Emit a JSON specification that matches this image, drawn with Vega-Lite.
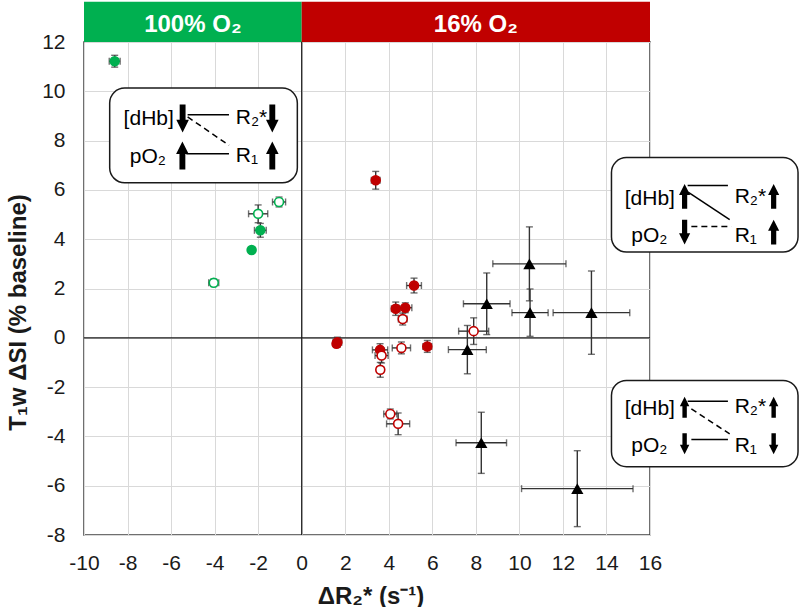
{
  "$schema": "https://vega.github.io/schema/vega-lite/v6.json",
  "width": 566,
  "height": 493,
  "autosize": {"type": "none"},
  "padding": {"left": 84, "top": 42, "right": 150, "bottom": 72},
  "background": "white",
  "config": {
    "view": {"stroke": "#404040", "strokeWidth": 1.5},
    "font": "Liberation Sans",
    "axis": {
      "grid": true, "gridColor": "#d9d9d9", "gridWidth": 1,
      "domain": false, "ticks": false, "tickSize": 0,
      "labelOverlap": false, "labelFlush": false, "labelExpr": "replace(datum.label, '\u2212', '-')",
      "labelFontSize": 21, "labelColor": "#1a1a1a", "labelFont": "Liberation Sans",
      "titleFontSize": 24, "titleFontWeight": "bold", "titleColor": "#1a1a1a", "titleFont": "Liberation Sans"
    },
    "axisX": {"tickCount": 13, "labelFlush": false, "labelPadding": 17, "titleX": 286.5, "titleY": 68, "titleBaseline": "alphabetic", "titleAlign": "center"},
    "axisY": {"tickCount": 10, "labelFlush": false, "labelPadding": 19, "titleX": -59, "titleY": 270, "titleBaseline": "alphabetic", "titleAlign": "center", "titleAngle": -90}
  },
  "resolve": {"scale": {"fill": "independent", "stroke": "independent", "shape": "independent", "size": "independent"}},
  "datasets": {
    "pts": [
      {"grp": "g_fill", "x": -8.59, "y": 11.22, "xlo": -8.84, "xhi": -8.34, "ylo": 10.98, "yhi": 11.46},
      {"grp": "g_open", "x": -1.04, "y": 5.51, "xlo": -1.34, "xhi": -0.74, "ylo": 5.31, "yhi": 5.71},
      {"grp": "g_open", "x": -2.0, "y": 5.03, "xlo": -2.44, "xhi": -1.56, "ylo": 4.67, "yhi": 5.39},
      {"grp": "g_fill", "x": -1.9, "y": 4.36, "xlo": -2.17, "xhi": -1.63, "ylo": 4.08, "yhi": 4.64},
      {"grp": "g_fill", "x": -2.3, "y": 3.56, "xlo": -2.4, "xhi": -2.2, "ylo": 3.46, "yhi": 3.66},
      {"grp": "g_open", "x": -4.04, "y": 2.23, "xlo": -4.27, "xhi": -3.81, "ylo": 2.08, "yhi": 2.38},
      {"grp": "r_fill", "x": 3.4, "y": 6.39, "xlo": 3.2, "xhi": 3.6, "ylo": 6.03, "yhi": 6.75},
      {"grp": "r_fill", "x": 5.16, "y": 2.12, "xlo": 4.82, "xhi": 5.5, "ylo": 1.82, "yhi": 2.42},
      {"grp": "r_fill", "x": 4.32, "y": 1.18, "xlo": 4.12, "xhi": 4.52, "ylo": 0.91, "yhi": 1.45},
      {"grp": "r_fill", "x": 4.76, "y": 1.22, "xlo": 4.46, "xhi": 5.06, "ylo": 1.02, "yhi": 1.42},
      {"grp": "r_open", "x": 4.64, "y": 0.76, "xlo": 4.44, "xhi": 4.84, "ylo": 0.52, "yhi": 1.0},
      {"grp": "r_fill", "x": 1.6, "y": -0.24, "xlo": 1.45, "xhi": 1.75, "ylo": -0.39, "yhi": -0.09},
      {"grp": "r_fill", "x": 1.64, "y": -0.18, "xlo": 1.44, "xhi": 1.84, "ylo": -0.38, "yhi": 0.02},
      {"grp": "r_fill", "x": 3.6, "y": -0.49, "xlo": 3.25, "xhi": 3.95, "ylo": -0.74, "yhi": -0.24},
      {"grp": "r_open", "x": 3.67, "y": -0.72, "xlo": 3.37, "xhi": 3.97, "ylo": -1.02, "yhi": -0.42},
      {"grp": "r_open", "x": 3.61, "y": -1.3, "xlo": 3.46, "xhi": 3.76, "ylo": -1.6, "yhi": -1.0},
      {"grp": "r_open", "x": 4.58, "y": -0.41, "xlo": 4.16, "xhi": 5.0, "ylo": -0.65, "yhi": -0.17},
      {"grp": "r_fill", "x": 5.77, "y": -0.35, "xlo": 5.57, "xhi": 5.97, "ylo": -0.59, "yhi": -0.11},
      {"grp": "r_open", "x": 7.9, "y": 0.27, "xlo": 7.21, "xhi": 8.59, "ylo": -0.27, "yhi": 0.81},
      {"grp": "r_open", "x": 4.07, "y": -3.09, "xlo": 3.77, "xhi": 4.37, "ylo": -3.29, "yhi": -2.89},
      {"grp": "r_open", "x": 4.43, "y": -3.49, "xlo": 3.9, "xhi": 4.96, "ylo": -3.93, "yhi": -3.05},
      {"grp": "tri", "x": 10.46, "y": 3.0, "xlo": 8.78, "xhi": 12.14, "ylo": 1.5, "yhi": 4.5},
      {"grp": "tri", "x": 8.5, "y": 1.38, "xlo": 7.43, "xhi": 9.57, "ylo": 0.13, "yhi": 2.63},
      {"grp": "tri", "x": 10.49, "y": 1.02, "xlo": 9.66, "xhi": 11.32, "ylo": 0.06, "yhi": 1.98},
      {"grp": "tri", "x": 13.31, "y": 1.02, "xlo": 11.55, "xhi": 15.07, "ylo": -0.67, "yhi": 2.71},
      {"grp": "tri", "x": 7.61, "y": -0.48, "xlo": 6.74, "xhi": 8.48, "ylo": -1.46, "yhi": 0.5},
      {"grp": "tri", "x": 8.25, "y": -4.26, "xlo": 7.09, "xhi": 9.41, "ylo": -5.5, "yhi": -3.02},
      {"grp": "tri", "x": 12.66, "y": -6.12, "xlo": 10.1, "xhi": 15.22, "ylo": -7.66, "yhi": -4.58}
    ],
    "header": [
      {"label": "100% O₂", "x": -10, "x2": 0, "xc": -5, "y": 12, "y2": 13.63, "yt": 12.41, "cond": "a"},
      {"label": "16% O₂", "x": 0, "x2": 16, "xc": 8, "y": 12, "y2": 13.63, "yt": 12.41, "cond": "b"}
    ],
    "zero": [{"v": 0}],
    "boxes": [
      {"box": "a", "x": -8.82, "x2": -0.2, "y": 6.29, "y2": 10.13},
      {"box": "b", "x": 14.23, "x2": 22.8, "y": 3.48, "y2": 7.31},
      {"box": "c", "x": 14.23, "x2": 22.8, "y": -5.23, "y2": -1.73}
    ],
    "boxtext": [
      {"box": "a", "label": "[dHb]", "x": -8.18, "y": 8.88},
      {"box": "a", "label": "R₂*", "x": -3.03, "y": 8.9},
      {"box": "a", "label": "pO₂", "x": -7.9, "y": 7.33},
      {"box": "a", "label": "R₁", "x": -3.03, "y": 7.36},
      {"box": "b", "label": "[dHb]", "x": 14.84, "y": 5.64},
      {"box": "b", "label": "R₂*", "x": 19.89, "y": 5.71},
      {"box": "b", "label": "pO₂", "x": 15.14, "y": 4.15},
      {"box": "b", "label": "R₁", "x": 19.89, "y": 4.15},
      {"box": "c", "label": "[dHb]", "x": 14.84, "y": -2.88},
      {"box": "c", "label": "R₂*", "x": 19.89, "y": -2.82},
      {"box": "c", "label": "pO₂", "x": 15.14, "y": -4.37},
      {"box": "c", "label": "R₁", "x": 19.89, "y": -4.37}
    ],
    "arrows": [
      {"box": "a", "dir": "down", "x": -5.47, "y": 8.9},
      {"box": "a", "dir": "down", "x": -1.35, "y": 8.9},
      {"box": "a", "dir": "up", "x": -5.48, "y": 7.4},
      {"box": "a", "dir": "up", "x": -1.35, "y": 7.4},
      {"box": "b", "dir": "up", "x": 17.59, "y": 5.74},
      {"box": "b", "dir": "up", "x": 21.68, "y": 5.74},
      {"box": "b", "dir": "down", "x": 17.59, "y": 4.29},
      {"box": "b", "dir": "up", "x": 21.68, "y": 4.29},
      {"box": "c", "dir": "up", "x": 17.59, "y": -2.82},
      {"box": "c", "dir": "up", "x": 21.68, "y": -2.82},
      {"box": "c", "dir": "down", "x": 17.59, "y": -4.3},
      {"box": "c", "dir": "down", "x": 21.68, "y": -4.3}
    ],
    "links": [
      {"box": "a", "style": "solid", "x": -5.24, "y": 9.05, "x2": -3.34, "y2": 9.05},
      {"box": "a", "style": "dashed", "x": -5.24, "y": 8.96, "x2": -3.34, "y2": 7.81},
      {"box": "a", "style": "solid", "x": -5.3, "y": 7.47, "x2": -3.34, "y2": 7.47},
      {"box": "b", "style": "solid", "x": 17.73, "y": 6.18, "x2": 19.58, "y2": 6.18},
      {"box": "b", "style": "solid", "x": 17.75, "y": 5.91, "x2": 19.66, "y2": 4.79},
      {"box": "b", "style": "dashed", "x": 17.9, "y": 4.52, "x2": 19.74, "y2": 4.52},
      {"box": "c", "style": "solid", "x": 17.73, "y": -2.57, "x2": 19.58, "y2": -2.57},
      {"box": "c", "style": "dashed", "x": 17.9, "y": -2.88, "x2": 19.66, "y2": -3.9},
      {"box": "c", "style": "solid", "x": 17.9, "y": -4.13, "x2": 19.58, "y2": -4.13}
    ]
  },
  "layer": [
    {
      "data": {"name": "zero"},
      "mark": {"type": "rule", "color": "#1a1a1a", "strokeWidth": 1.2},
      "encoding": {
        "x": {"field": "v", "type": "quantitative", "title": "ΔR₂* (s⁻¹)", "scale": {"domain": [-10, 16], "nice": false, "zero": false}}
      }
    },
    {
      "data": {"name": "zero"},
      "mark": {"type": "rule", "color": "#1a1a1a", "strokeWidth": 1.2},
      "encoding": {
        "y": {"field": "v", "type": "quantitative", "title": "T₁w ΔSI (% baseline)", "scale": {"domain": [-8, 12], "nice": false, "zero": false}}
      }
    },
    {
      "data": {"name": "header"},
      "mark": {"type": "rect"},
      "encoding": {
        "x": {"field": "x", "type": "quantitative", "title": "ΔR₂* (s⁻¹)"},
        "x2": {"field": "x2"},
        "y": {"field": "y", "type": "quantitative", "title": "T₁w ΔSI (% baseline)"},
        "y2": {"field": "y2"},
        "fill": {"field": "cond", "type": "nominal", "scale": {"domain": ["a", "b"], "range": ["#00B050", "#C00000"]}, "legend": null}
      }
    },
    {
      "data": {"name": "header"},
      "mark": {"type": "text", "color": "white", "fontSize": 24, "fontWeight": "bold", "font": "Liberation Sans", "align": "center", "baseline": "alphabetic"},
      "encoding": {
        "x": {"field": "xc", "type": "quantitative", "title": "ΔR₂* (s⁻¹)"},
        "y": {"field": "yt", "type": "quantitative", "title": "T₁w ΔSI (% baseline)"},
        "text": {"field": "label"}
      }
    },
    {
      "data": {"name": "pts"},
      "mark": {"type": "rule", "color": "#333333", "strokeWidth": 1.4},
      "encoding": {
        "x": {"field": "xlo", "type": "quantitative", "title": "ΔR₂* (s⁻¹)"},
        "x2": {"field": "xhi"},
        "y": {"field": "y", "type": "quantitative", "title": "T₁w ΔSI (% baseline)"}
      }
    },
    {
      "data": {"name": "pts"},
      "mark": {"type": "rule", "color": "#333333", "strokeWidth": 1.4},
      "encoding": {
        "x": {"field": "x", "type": "quantitative", "title": "ΔR₂* (s⁻¹)"},
        "y": {"field": "ylo", "type": "quantitative", "title": "T₁w ΔSI (% baseline)"},
        "y2": {"field": "yhi"}
      }
    },
    {
      "data": {"name": "pts"},
      "mark": {"type": "tick", "orient": "vertical", "color": "#333333", "size": 7, "thickness": 1.4},
      "encoding": {
        "x": {"field": "xlo", "type": "quantitative", "title": "ΔR₂* (s⁻¹)"},
        "y": {"field": "y", "type": "quantitative", "title": "T₁w ΔSI (% baseline)"}
      }
    },
    {
      "data": {"name": "pts"},
      "mark": {"type": "tick", "orient": "vertical", "color": "#333333", "size": 7, "thickness": 1.4},
      "encoding": {
        "x": {"field": "xhi", "type": "quantitative", "title": "ΔR₂* (s⁻¹)"},
        "y": {"field": "y", "type": "quantitative", "title": "T₁w ΔSI (% baseline)"}
      }
    },
    {
      "data": {"name": "pts"},
      "mark": {"type": "tick", "orient": "horizontal", "color": "#333333", "size": 7, "thickness": 1.4},
      "encoding": {
        "x": {"field": "x", "type": "quantitative", "title": "ΔR₂* (s⁻¹)"},
        "y": {"field": "ylo", "type": "quantitative", "title": "T₁w ΔSI (% baseline)"}
      }
    },
    {
      "data": {"name": "pts"},
      "mark": {"type": "tick", "orient": "horizontal", "color": "#333333", "size": 7, "thickness": 1.4},
      "encoding": {
        "x": {"field": "x", "type": "quantitative", "title": "ΔR₂* (s⁻¹)"},
        "y": {"field": "yhi", "type": "quantitative", "title": "T₁w ΔSI (% baseline)"}
      }
    },
    {
      "data": {"name": "pts"},
      "transform": [{"filter": "datum.grp !== 'tri'"}],
      "mark": {"type": "point", "shape": "circle", "filled": true, "size": 80, "strokeWidth": 1.6, "opacity": 1},
      "encoding": {
        "x": {"field": "x", "type": "quantitative", "title": "ΔR₂* (s⁻¹)"},
        "y": {"field": "y", "type": "quantitative", "title": "T₁w ΔSI (% baseline)"},
        "fill": {"field": "grp", "type": "nominal", "scale": {"domain": ["g_fill", "g_open", "r_fill", "r_open"], "range": ["#00B050", "#ffffff", "#C00000", "#ffffff"]}, "legend": null},
        "stroke": {"field": "grp", "type": "nominal", "scale": {"domain": ["g_fill", "g_open", "r_fill", "r_open"], "range": ["#00B050", "#00B050", "#C00000", "#C00000"]}, "legend": null}
      }
    },
    {
      "data": {"name": "pts"},
      "transform": [{"filter": "datum.grp === 'tri'"}],
      "mark": {"type": "point", "shape": "triangle-up", "filled": true, "size": 150, "color": "#000000", "opacity": 1},
      "encoding": {
        "x": {"field": "x", "type": "quantitative", "title": "ΔR₂* (s⁻¹)"},
        "y": {"field": "y", "type": "quantitative", "title": "T₁w ΔSI (% baseline)"}
      }
    },
    {
      "data": {"name": "boxes"},
      "mark": {"type": "rect", "fill": "white", "stroke": "#1a1a1a", "strokeWidth": 1.5, "cornerRadius": 15},
      "encoding": {
        "x": {"field": "x", "type": "quantitative", "title": "ΔR₂* (s⁻¹)"},
        "x2": {"field": "x2"},
        "y": {"field": "y", "type": "quantitative", "title": "T₁w ΔSI (% baseline)"},
        "y2": {"field": "y2"}
      }
    },
    {
      "data": {"name": "links"},
      "transform": [{"filter": "datum.style === 'solid'"}],
      "mark": {"type": "rule", "color": "#000000", "strokeWidth": 1.5},
      "encoding": {
        "x": {"field": "x", "type": "quantitative", "title": "ΔR₂* (s⁻¹)"},
        "x2": {"field": "x2"},
        "y": {"field": "y", "type": "quantitative", "title": "T₁w ΔSI (% baseline)"},
        "y2": {"field": "y2"}
      }
    },
    {
      "data": {"name": "links"},
      "transform": [{"filter": "datum.style === 'dashed'"}],
      "mark": {"type": "rule", "color": "#000000", "strokeWidth": 1.5, "strokeDash": [6, 4]},
      "encoding": {
        "x": {"field": "x", "type": "quantitative", "title": "ΔR₂* (s⁻¹)"},
        "x2": {"field": "x2"},
        "y": {"field": "y", "type": "quantitative", "title": "T₁w ΔSI (% baseline)"},
        "y2": {"field": "y2"}
      }
    },
    {
      "data": {"name": "arrows"},
      "mark": {"type": "point", "filled": true, "color": "#000000", "opacity": 1},
      "encoding": {
        "x": {"field": "x", "type": "quantitative", "title": "ΔR₂* (s⁻¹)"},
        "y": {"field": "y", "type": "quantitative", "title": "T₁w ΔSI (% baseline)"},
        "shape": {"field": "dir", "type": "nominal", "scale": {"domain": ["up", "down"], "range": ["M-0.21,1L-0.21,-0.1L-0.45,-0.1L0,-1L0.45,-0.1L0.21,-0.1L0.21,1Z", "M-0.21,-1L-0.21,0.1L-0.45,0.1L0,1L0.45,0.1L0.21,0.1L0.21,-1Z"]}, "legend": null},
        "size": {"field": "box", "type": "ordinal", "scale": {"domain": ["a", "b", "c"], "range": [784, 441, 441]}, "legend": null}
      }
    },
    {
      "data": {"name": "boxtext"},
      "mark": {"type": "text", "align": "left", "baseline": "middle", "fontSize": 21, "font": "Liberation Sans", "color": "#000000"},
      "encoding": {
        "x": {"field": "x", "type": "quantitative", "title": "ΔR₂* (s⁻¹)"},
        "y": {"field": "y", "type": "quantitative", "title": "T₁w ΔSI (% baseline)"},
        "text": {"field": "label"}
      }
    }
  ]
}
